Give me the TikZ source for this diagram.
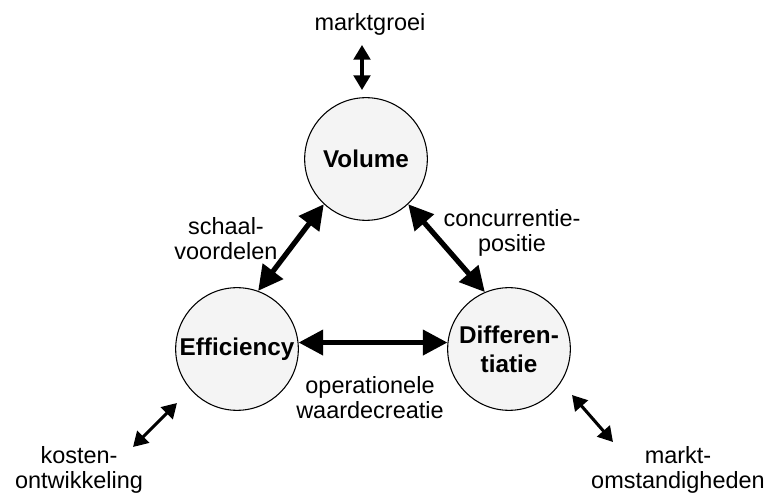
\documentclass[tikz,border=0pt]{standalone}
\usepackage{fontspec}
\setmainfont{Liberation Sans}
\usetikzlibrary{arrows.meta}

\definecolor{discfill}{HTML}{F4F4F4}

\tikzset{
  disc/.style={circle, draw=black, line width=0.8pt, fill=discfill,
    minimum size=92pt, inner sep=0pt, align=center,
    font=\bfseries\fontsize{18.2}{21.5}\selectfont},
  lbl/.style={align=center, inner sep=0pt,
    font=\fontsize{17.6}{18.8}\selectfont},
  bigarrow/.style={line width=3.9pt,
    {Triangle[length=18.5pt,width=18.5pt]}-{Triangle[length=18.5pt,width=18.5pt]}},
  smallarrow/.style={line width=2.3pt,
    {Triangle[length=11pt,width=12.5pt]}-{Triangle[length=11pt,width=12.5pt]}}
}

\begin{document}
\begin{tikzpicture}[x=0.75pt,y=-0.75pt]
  \useasboundingbox (0,0) rectangle (769,495);

  % the three strategy circles
  \node[disc] (vol)  at (366,159) {Volume};
  \node[disc] (eff)  at (237,349) {Efficiency};
  \node[disc] (dif)  at (509,349) {Differen-\\tiatie};

  % labels along the triangle
  \node[lbl] (sv)  at (226,239) {schaal-\\voordelen};
  \node[lbl] (cp)  at (512,233) {concurrentie-\\positie};
  \node[lbl] (ow)  at (370,398) {operationele\\waardecreatie};

  % outside influences
  \node[lbl] (mg)  at (370,24)  {marktgroei};
  \node[lbl] (ko)  at (79,470)  {kosten-\\ontwikkeling};
  \node[lbl] (mo)  at (678,470) {markt-\\omstandigheden};

  % end points of the outside arrows
  \coordinate (mgA) at (362,45);
  \coordinate (mgB) at (362,90);
  \coordinate (koA) at (133,447);
  \coordinate (koB) at (177,403);
  \coordinate (moA) at (572,395);
  \coordinate (moB) at (613,442);

  % relations between the circles
  \draw[bigarrow] (vol.227) -- (eff.70);
  \draw[bigarrow] (vol.313) -- (dif.113);
  \draw[bigarrow] (eff.6) -- (dif.174);

  % outside arrows
  \draw[smallarrow] (mgA) -- (mgB);
  \draw[smallarrow] (koA) -- (koB);
  \draw[smallarrow] (moA) -- (moB);
\end{tikzpicture}
\end{document}
